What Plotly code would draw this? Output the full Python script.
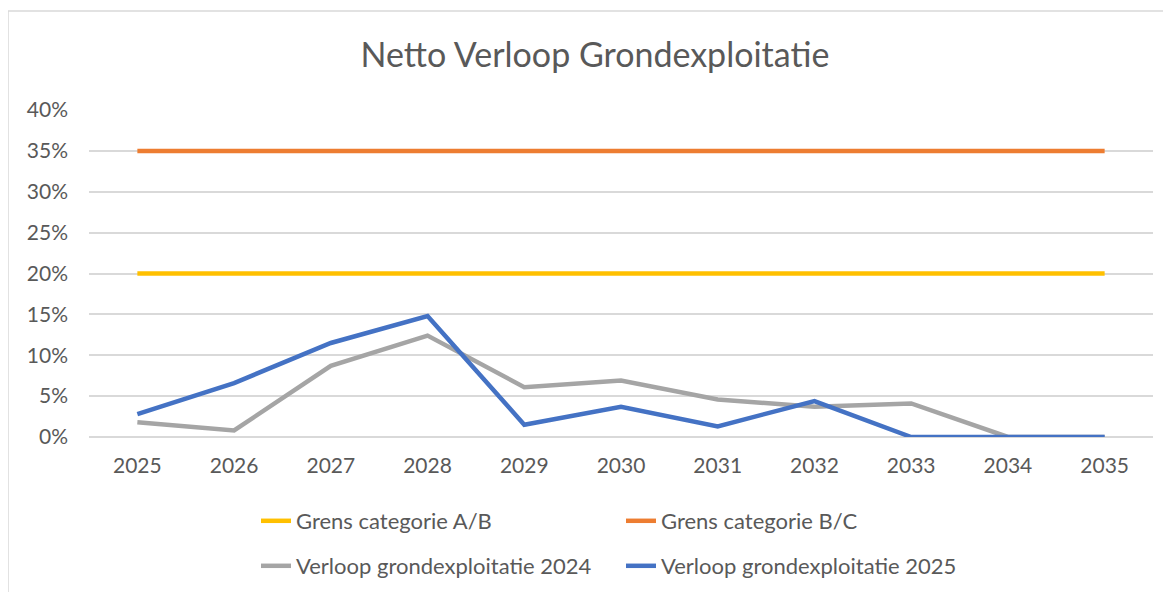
import plotly.graph_objects as go

years = ["2025", "2026", "2027", "2028", "2029", "2030", "2031", "2032", "2033", "2034", "2035"]
grens_ab = [0.20, 0.20, 0.20, 0.20, 0.20, 0.20, 0.20, 0.20, 0.20, 0.20, 0.20]
grens_bc = [0.35, 0.35, 0.35, 0.35, 0.35, 0.35, 0.35, 0.35, 0.35, 0.35, 0.35]
verloop_2024 = [0.018, 0.008, 0.087, 0.124, 0.061, 0.069, 0.046, 0.037, 0.041, 0.0, 0.0]
verloop_2025 = [0.028, 0.066, 0.115, 0.148, 0.015, 0.037, 0.013, 0.044, 0.0, 0.0, 0.0]

FONT = "Lato"
TXT = "#595959"

fig = go.Figure()
fig.add_trace(go.Scatter(x=years, y=grens_ab, mode="lines", name="Grens categorie A/B",
                         line=dict(color="#FFC000", width=4.5), legend="legend"))
fig.add_trace(go.Scatter(x=years, y=grens_bc, mode="lines", name="Grens categorie B/C",
                         line=dict(color="#ED7D31", width=4.5), legend="legend"))
fig.add_trace(go.Scatter(x=years, y=verloop_2024, mode="lines", name="Verloop grondexploitatie 2024",
                         line=dict(color="#A5A5A5", width=4.5), legend="legend2"))
fig.add_trace(go.Scatter(x=years, y=verloop_2025, mode="lines", name="Verloop grondexploitatie 2025",
                         line=dict(color="#4472C4", width=4.5), legend="legend2"))

# page offset (body margin) compensation: screen = figure + OFF
OFF = 8
W, H = 1171, 592
L, T = 89 - OFF, 110 - OFF
pw, ph = 1064, 327
R = W - L - pw
B = H - T - ph

def sx(s):
    return (s - OFF - L) / pw

def sy(s):
    return (H - B - (s - OFF)) / ph

legend_common = dict(orientation="h", xanchor="left", yanchor="middle",
                     entrywidth=320, entrywidthmode="pixels",
                     font=dict(family=FONT, size=22, color=TXT),
                     bgcolor="rgba(0,0,0,0)", itemclick=False)

fig.update_layout(
    width=W, height=H,
    margin=dict(l=L, r=R, t=T, b=B, autoexpand=False),
    paper_bgcolor="white", plot_bgcolor="white",
    font=dict(family=FONT, color=TXT),
    title=dict(text="Netto Verloop Grondexploitatie", x=(595 - OFF) / W, xanchor="center",
               y=1 - (55 - OFF) / H, yanchor="middle",
               font=dict(family=FONT, size=34, color=TXT)),
    legend=dict(x=sx(256), y=sy(521), **legend_common),
    legend2=dict(x=sx(256), y=sy(566), **legend_common),
    showlegend=True,
)
fig.update_xaxes(type="category", range=[-0.5, 10.5], showgrid=False, showline=False,
                 zeroline=False, ticks="", ticklabelstandoff=14, automargin=False,
                 tickfont=dict(family=FONT, size=21, color=TXT))
fig.update_yaxes(range=[0, 0.4], dtick=0.05, tickformat=".0%", showgrid=True,
                 gridcolor="#D9D9D9", gridwidth=1.5, zeroline=True, zerolinecolor="#D9D9D9",
                 zerolinewidth=1.5, showline=False, ticks="", ticklabelstandoff=20, automargin=False,
                 tickfont=dict(family=FONT, size=21, color=TXT))

fig.add_shape(type="rect", xref="paper", yref="paper",
              x0=sx(8), x1=sx(1300), y0=sy(800), y1=sy(11),
              line=dict(color="#D9D9D9", width=1.5), fillcolor="rgba(0,0,0,0)", layer="below")

fig.write_html("out.html")
